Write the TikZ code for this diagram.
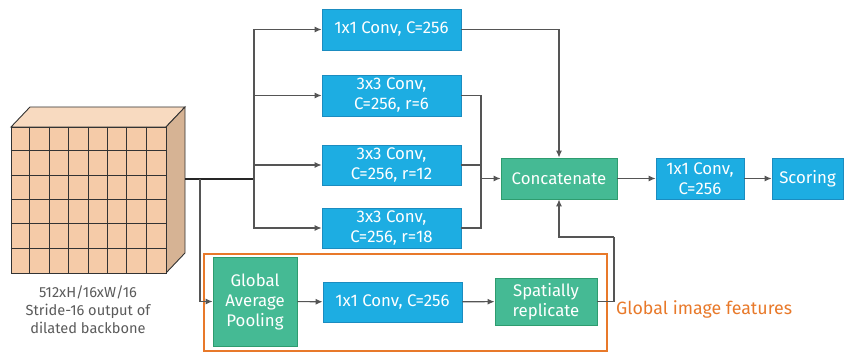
\documentclass[tikz,border=0pt]{standalone}
\usepackage{fontspec}
\setmainfont{Fira Sans}
\usetikzlibrary{
arrows.meta,
positioning,
calc
}
\definecolor{ASPPBlue}{HTML}{1DADE2}
\definecolor{ASPPBlueEdge}{HTML}{1B8CC0}
\definecolor{ASPPGreen}{HTML}{45BA94}
\definecolor{ASPPGreenEdge}{HTML}{2E9C6F}
\definecolor{ASPPOrange}{HTML}{E8792A}
\definecolor{ASPPLine}{HTML}{555555}
\definecolor{ASPPText}{HTML}{5A5A5A}
\definecolor{CubeFront}{HTML}{F5CBA8}
\definecolor{CubeTop}{HTML}{F8DAC0}
\definecolor{CubeSide}{HTML}{D6B394}
\tikzset{
asppblue/.style={draw=ASPPBlueEdge, fill=ASPPBlue, line width=0.8pt, align=center,
  text=white, font=\fontsize{16.8}{20}\selectfont, inner sep=0pt},
asppgreen/.style={draw=ASPPGreenEdge, fill=ASPPGreen, line width=0.8pt, align=center,
  text=white, font=\fontsize{16.8}{20}\selectfont, inner sep=0pt},
aspparrow/.style={-{Latex[length=7pt,width=6pt]}, line width=1.1pt, draw=ASPPLine},
asppline/.style={line width=1.1pt, draw=ASPPLine}
}

\begin{document}
\begin{tikzpicture}[x=1pt, y=-1pt]
\useasboundingbox (0,0) rectangle (858,352);

% feature map cube
\fill[CubeTop, draw=black!80, line width=0.9pt] (11,127) -- (30,107) -- (185,107) -- (166,127) -- cycle;
\fill[CubeSide, draw=black!80, line width=0.9pt] (166,127) -- (185,107) -- (185,253) -- (166,273) -- cycle;
\node[draw=black!80, fill=CubeFront, line width=0.9pt, minimum width=155pt, minimum height=146pt,
  inner sep=0pt] (cube) at (88.5,200) {};
\foreach \i in {1,...,7}
  \draw[black!80, line width=0.9pt] ($(cube.north west)+(19.375*\i,0)$) -- ($(cube.south west)+(19.375*\i,0)$);
\foreach \j in {1,...,5}
  \draw[black!80, line width=0.9pt] ($(cube.north west)+(0,24.33*\j)$) -- ($(cube.north east)+(0,24.33*\j)$);
\coordinate (cubeside) at (185,179);
\node[align=center, text=ASPPText, font=\fontsize{14.6}{18}\selectfont] (cubelabel) at (88,310)
  {512xH/16xW/16\\Stride-16 output of\\dilated backbone};

% parallel branches
\node[asppblue, minimum width=139pt, minimum height=41pt] (conva) at (391.5,29.5) {1x1 Conv, C=256};
\node[asppblue, minimum width=139pt, minimum height=41pt] (convb) at (391.5,95.5) {3x3 Conv,\\C=256, r=6};
\node[asppblue, minimum width=139pt, minimum height=40pt] (convc) at (391.5,165) {3x3 Conv,\\C=256, r=12};
\node[asppblue, minimum width=139pt, minimum height=40pt] (convd) at (391.5,228) {3x3 Conv,\\C=256, r=18};

\node[asppgreen, minimum width=116pt, minimum height=41pt] (concat) at (559,178.5) {Concatenate};
\node[asppblue, minimum width=88pt, minimum height=41pt] (convout) at (700,178.5) {1x1 Conv,\\C=256};
\node[asppblue, minimum width=71pt, minimum height=41pt] (score) at (807.5,178.5) {Scoring};

% image pooling branch
\node[draw=ASPPOrange, line width=2pt, minimum width=403pt, minimum height=96pt, inner sep=0pt]
  (gbox) at (405.5,302.5) {};
\node[asppgreen, minimum width=84pt, minimum height=89pt] (gap) at (255,301.5) {Global\\Average\\Pooling};
\node[asppblue, minimum width=139pt, minimum height=40pt] (gconv) at (392.5,302) {1x1 Conv, C=256};
\node[asppgreen, minimum width=102pt, minimum height=47pt] (rep) at (546,301.5) {Spatially\\replicate};
\node[anchor=west, text=ASPPOrange, font=\fontsize{17.8}{20}\selectfont, inner sep=0pt] (glabel) at (616,309)
  {Global image features};

\coordinate (split) at (254,179);
\coordinate (gsplit) at (200,179);
\coordinate (merge) at (481,178.5);
\coordinate (back) at (614,237);

\draw[line width=1.3pt, draw=black!85] (cubeside) -- (split);
\draw[aspparrow] (split) |- (conva);
\draw[aspparrow] (split) |- (convb);
\draw[aspparrow] (split) |- (convc);
\draw[aspparrow] (split) |- (convd);
\draw[aspparrow] (conva) -| (concat);
\draw[asppline] (convb) -| (merge);
\draw[asppline] (convc) -| (merge);
\draw[asppline] (convd) -| (merge);
\draw[aspparrow] (merge) -- (concat);
\draw[aspparrow] (concat) -- (convout);
\draw[aspparrow] (convout) -- (score);
\draw[aspparrow] (gsplit) |- (gap);
\draw[aspparrow] (gap) -- (gconv);
\draw[aspparrow] (gconv) -- (rep);
\draw[asppline] (rep) -| (back);
\draw[aspparrow] (back) -| (concat);
\end{tikzpicture}
\end{document}
